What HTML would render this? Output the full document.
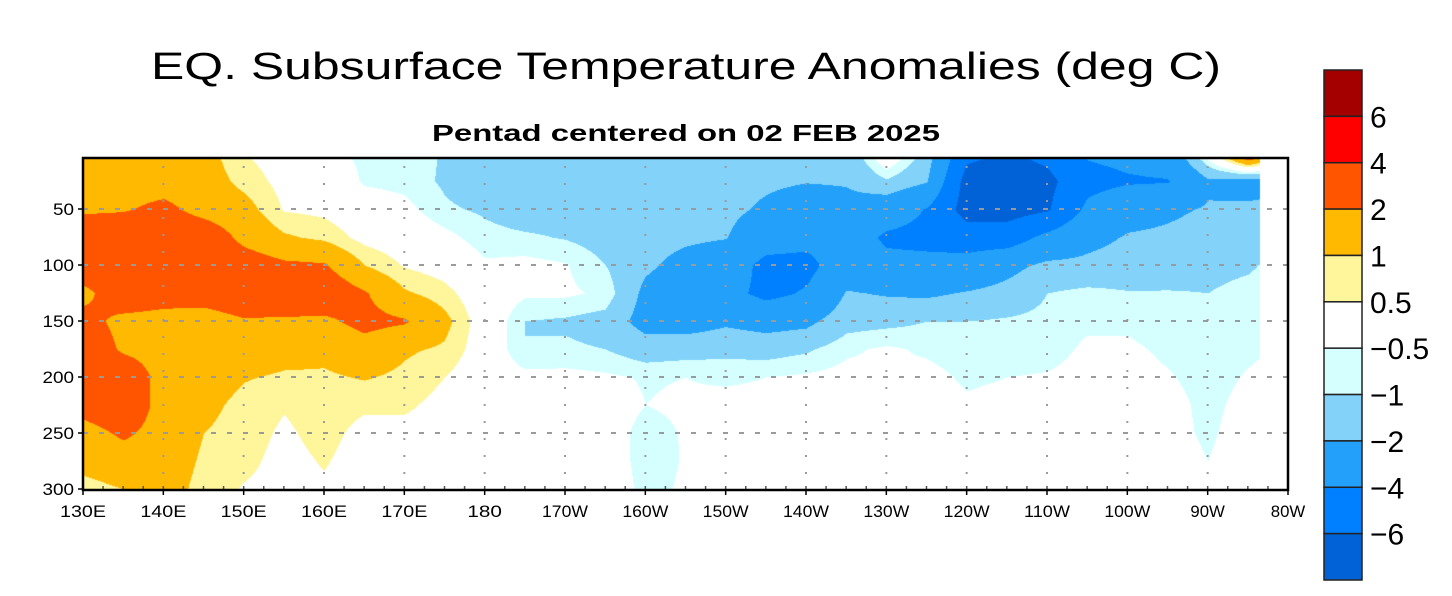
<!DOCTYPE html>
<html><head><meta charset="utf-8">
<style>
html,body{margin:0;padding:0;background:#fff;}
#wrap{position:relative;width:1452px;height:596px;overflow:hidden;}
svg text{font-family:"Liberation Sans",sans-serif;fill:#000;}
</style></head>
<body>
<div id="wrap">
<svg id="svg" width="1452" height="596" viewBox="0 0 1452 596" xmlns="http://www.w3.org/2000/svg">
  <text x="686" y="79" text-anchor="middle" font-size="38" textLength="1070" lengthAdjust="spacingAndGlyphs">EQ. Subsurface Temperature Anomalies (deg C)</text>
  <text x="686" y="141" text-anchor="middle" font-size="23" font-weight="bold" textLength="508" lengthAdjust="spacingAndGlyphs">Pentad centered on 02 FEB 2025</text>
  <foreignObject x="83" y="158" width="1205" height="332">
    <canvas id="cv" width="1205" height="332" xmlns="http://www.w3.org/1999/xhtml" style="display:block"></canvas>
  </foreignObject>
  <g id="grid"></g>
  <g id="axes"></g>
  <rect x="83" y="158" width="1205" height="332" fill="none" stroke="#000" stroke-width="2.5"/>
  <g id="cbar"></g>
</svg>
</div>
<script>
// ---- data ----
const lons = [130,135,140,145,150,155,160,165,170,175,180,185,190,195,200,205,210,215,220,225,230,235,240,245,250,255,260,265,270,275,280];
const depths = [0,25,50,75,100,125,150,175,200,225,250,275,300];
// anomaly[i] = column at lons[i], values at depths
const anomaly = [
[1.5,1.5,1.8,3,3,1.6,2.5,3,3,2.5,1.5,1.2,0.8],
[1.5,1.5,1.9,3,3,3,1.6,1.8,3,3,2.2,1.4,1.0],
[1.5,1.5,2.3,3,3,2.6,1.5,1.5,1.5,1.5,1.5,1.4,1.3],
[1.3,1.4,1.6,2.8,3,2.5,1.5,1.5,1.4,1.2,1.0,0.9,0.8],
[0.5,0.8,1.3,1.7,2.6,2.8,1.9,1.5,1.05,0.8,0.75,0.65,0.45],
[0.2,0.3,0.45,1.1,2.2,3,1.8,1.3,0.9,0.55,0.4,0.3,0.3],
[-0.3,0.2,0.35,0.85,2.1,2.8,1.8,1.2,0.9,0.75,0.7,0.55,0.4],
[-0.65,-0.6,0,0.3,1.0,2.1,2.3,1.6,1.05,0.6,0.3,0.2,0.2],
[-0.75,-0.7,-0.3,0.1,0.45,1.1,2.1,1.1,0.85,0.6,0.3,0.2,0.1],
[-1.05,-1.1,-0.9,-0.3,0.2,0.7,1.2,0.9,0.5,0.3,0.2,0.1,0.1],
[-1.6,-1.5,-1.1,-0.8,-0.4,0,0.1,0.1,0,0,0,0,0],
[-1.6,-1.5,-1.4,-0.9,-0.3,-0.4,-1.0,-1.0,-0.3,-0.1,-0.1,-0.1,0],
[-1.6,-1.5,-1.3,-1.05,-0.45,-0.4,-1.1,-0.9,-0.3,-0.1,-0.1,-0.1,0],
[-1.6,-1.6,-1.5,-1.3,-1.0,-0.6,-1.3,-1.0,-0.4,-0.2,-0.2,-0.1,0],
[-1.6,-1.6,-1.6,-1.6,-1.8,-2.3,-2.5,-1.4,-0.55,-0.5,-0.7,-0.75,-0.7],
[-1.6,-1.6,-1.6,-1.8,-2.4,-2.8,-2.6,-1.3,-0.5,-0.4,-0.45,-0.45,-0.4],
[-1.6,-1.6,-1.7,-1.95,-2.8,-3.4,-2.2,-1.2,-0.6,-0.3,-0.2,-0.2,-0.2],
[-1.7,-1.8,-2.2,-3,-4.6,-4.5,-2.5,-1.3,-0.5,-0.3,-0.2,-0.2,-0.2],
[-1.8,-1.95,-2.7,-3.4,-4.6,-3.8,-2.3,-1.1,-0.4,-0.3,-0.2,-0.2,-0.2],
[-1.7,-1.9,-2.4,-3,-2.8,-1.9,-1.3,-0.6,-0.3,-0.2,-0.2,-0.1,-0.1],
[0.3,-1.1,-3,-4.3,-3.5,-2.1,-1.2,-0.4,-0.4,-0.5,-0.2,-0.1,-0.1],
[-1.3,-1.9,-4.1,-4.5,-3.5,-2.2,-1.0,-0.6,-0.3,-0.2,-0.2,-0.1,-0.1],
[-5.5,-6.8,-6.8,-5,-3.2,-1.9,-1.0,-0.8,-0.6,-0.4,-0.3,-0.2,-0.2],
[-6.2,-7,-6.8,-5,-2.4,-1.6,-0.9,-0.75,-0.5,-0.3,-0.2,-0.2,-0.1],
[-5.5,-6.5,-6.2,-3.5,-1.7,-1.0,-0.8,-0.7,-0.45,-0.3,-0.2,-0.2,-0.1],
[-3.8,-4.6,-3.6,-2.4,-1.7,-0.8,-0.6,-0.4,-0.3,-0.2,-0.2,-0.1,-0.1],
[-3.5,-4.2,-2.5,-1.9,-1.5,-0.95,-0.6,-0.4,-0.3,-0.2,-0.2,-0.1,-0.1],
[-3,-4.1,-2.2,-1.8,-1.4,-0.95,-0.8,-0.6,-0.45,-0.3,-0.3,-0.2,-0.1],
[0,-2.2,-1.9,-1.6,-1.2,-1.0,-0.8,-0.75,-0.7,-0.65,-0.6,-0.5,-0.3],
[3.5,-2.5,-1.8,-1.5,-1.1,-0.8,-0.7,-0.6,-0.45,-0.3,-0.2,-0.1,-0.1],
[1.0,-2.5,-1.5,-1.0,-0.7,-0.6,-0.5,-0.4,-0.3,-0.2,-0.1,-0.1,0]
];
const levels = [-6,-4,-2,-1,-0.5,0.5,1,2,4,6];
const levelColors = ["#0062d6","#0080ff","#22a0fa","#82d2fa","#d5ffff","#ffffff","#fff59b","#ffb900","#ff5500","#ff0000","#a50000"];
const cbarLabels = ["6","4","2","1","0.5","\u22120.5","\u22121","\u22122","\u22124","\u22126"];
const xTickLabels = ["130E","140E","150E","160E","170E","180","170W","160W","150W","140W","130W","120W","110W","100W","90W","80W"];
const xTickLons = [130,140,150,160,170,180,190,200,210,220,230,240,250,260,270,280];
const yTickDepths = [50,100,150,200,250,300];

// ---- scales ----
const X0=83, X1=1288, Y0=158, Y1=490;
const xScale = lon => X0 + (lon-130)*(X1-X0)/150;
const yScale = d => 153 + d*1.12;
const lonAt = px => 130 + (px-X0)*150/(X1-X0);
const depthAt = py => (py-153)/1.12;
const dataEdgeLon = 276.5;

function sample(lon, d){
  let fi=(lon-lons[0])/(lons[1]-lons[0]); fi=Math.max(0,Math.min(lons.length-1.0001,fi));
  let fj=(d-depths[0])/(depths[1]-depths[0]); fj=Math.max(0,Math.min(depths.length-1.0001,fj));
  const i=Math.floor(fi), j=Math.floor(fj), a=fi-i, b=fj-j;
  const v00=anomaly[i][j], v10=anomaly[i+1][j], v01=anomaly[i][j+1], v11=anomaly[i+1][j+1];
  return (v00*(1-a)+v10*a)*(1-b)+(v01*(1-a)+v11*a)*b;
}
function hex(c){return [parseInt(c.substr(1,2),16),parseInt(c.substr(3,2),16),parseInt(c.substr(5,2),16)];}

// ---- heatmap ----
const cv=document.getElementById('cv'); const ctx=cv.getContext('2d');
const img=ctx.createImageData(cv.width,cv.height);
const rgb=levelColors.map(hex);
for(let py=0;py<cv.height;py++){
  for(let px=0;px<cv.width;px++){
    const lon=lonAt(px+X0), d=depthAt(py+Y0);
    let c=[255,255,255];
    if(lon<=dataEdgeLon){
      const v=sample(lon,d);
      let k=0; while(k<levels.length && v>levels[k]) k++;
      c=rgb[k];
    }
    const o=(py*cv.width+px)*4;
    img.data[o]=c[0];img.data[o+1]=c[1];img.data[o+2]=c[2];img.data[o+3]=255;
  }
}
ctx.putImageData(img,0,0);

// ---- grid & axes ----
const NS='http://www.w3.org/2000/svg';
const grid=document.getElementById('grid'), axes=document.getElementById('axes');
xTickLons.forEach((lon,i)=>{
  const x=xScale(lon);
  if(i>0 && i<xTickLons.length-1){
    const l=document.createElementNS(NS,'line');
    l.setAttribute('x1',x);l.setAttribute('x2',x);l.setAttribute('y1',Y0+8);l.setAttribute('y2',Y1);
    l.setAttribute('stroke','#9a9a9a');l.setAttribute('stroke-width','2');l.setAttribute('stroke-dasharray','2 15');
    
    
    grid.appendChild(l);
  }
  const t=document.createElementNS(NS,'text');
  t.setAttribute('x',x);t.setAttribute('y',517);t.setAttribute('text-anchor','middle');
  t.setAttribute('font-size','17');t.setAttribute('textLength',xTickLabels[i].length*11.5);t.setAttribute('lengthAdjust','spacingAndGlyphs');
  t.textContent=xTickLabels[i];
  
  
  axes.appendChild(t);
  const tk=document.createElementNS(NS,'line');
  tk.setAttribute('x1',x);tk.setAttribute('x2',x);tk.setAttribute('y1',Y1);tk.setAttribute('y2',Y1+5);tk.setAttribute('stroke','#000');tk.setAttribute('stroke-width','1.5');
  
  
  axes.appendChild(tk);
});
for(let lon=132.5;lon<280;lon+=2.5){
  const tk=document.createElementNS(NS,'line');const x=xScale(lon);
  tk.setAttribute('x1',x);tk.setAttribute('x2',x);tk.setAttribute('y1',Y1-4);tk.setAttribute('y2',Y1);tk.setAttribute('stroke','#555');tk.setAttribute('stroke-width','1.5');
  
  
  axes.appendChild(tk);
}
yTickDepths.forEach(d=>{
  const y=yScale(d);
  if(d<300){
    const l=document.createElementNS(NS,'line');
    l.setAttribute('x1',X0);l.setAttribute('x2',X1);l.setAttribute('y1',y);l.setAttribute('y2',y);
    l.setAttribute('stroke','#9a9a9a');l.setAttribute('stroke-width','2');l.setAttribute('stroke-dasharray','5 11');
    
    
    grid.appendChild(l);
  }
  const t=document.createElementNS(NS,'text');
  t.setAttribute('x',74);t.setAttribute('y',y+6);t.setAttribute('text-anchor','end');t.setAttribute('font-size','17');
  t.setAttribute('textLength',String(d).length*10.5);t.setAttribute('lengthAdjust','spacingAndGlyphs');
  t.textContent=d;
  
  
  axes.appendChild(t);
  const tk=document.createElementNS(NS,'line');
  tk.setAttribute('x1',X0-5);tk.setAttribute('x2',X0);tk.setAttribute('y1',y);tk.setAttribute('y2',y);tk.setAttribute('stroke','#000');tk.setAttribute('stroke-width','1.5');
  
  
  axes.appendChild(tk);
});

// ---- colorbar ----
const cb=document.getElementById('cbar');
const CBX=1324, CBW=38, CBT=70, CBB=580;
const nBox=levelColors.length, bh=(CBB-CBT)/nBox;
for(let k=0;k<nBox;k++){
  const r=document.createElementNS(NS,'rect');
  r.setAttribute('x',CBX);r.setAttribute('y',CBT+k*bh);r.setAttribute('width',CBW);r.setAttribute('height',bh);
  r.setAttribute('fill',levelColors[nBox-1-k]);r.setAttribute('stroke','#222');r.setAttribute('stroke-width','1.5');
  
  
  cb.appendChild(r);
}
cbarLabels.forEach((s,k)=>{
  const t=document.createElementNS(NS,'text');
  t.setAttribute('x',1370);t.setAttribute('y',CBT+(k+1)*bh+11);t.setAttribute('font-size','30');
  t.textContent=s;
  
  
  cb.appendChild(t);
});
</script>
</body></html>
